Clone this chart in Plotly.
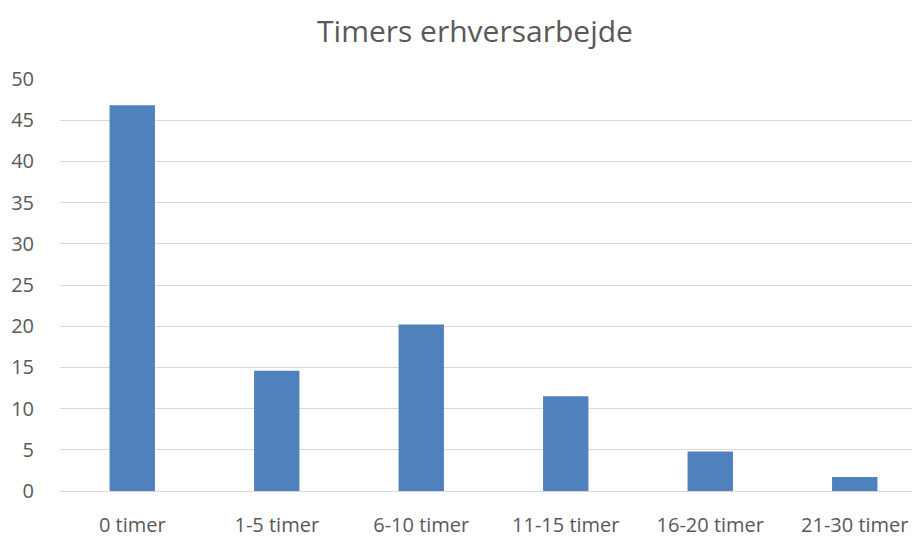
import plotly.graph_objects as go

categories = ["0 timer", "1-5 timer", "6-10 timer", "11-15 timer", "16-20 timer", "21-30 timer"]
values = [46.8, 14.6, 20.2, 11.5, 4.8, 1.7]
y_ticks = [0, 5, 10, 15, 20, 25, 30, 35, 40, 45, 50]

fig = go.Figure(go.Bar(x=categories, y=values, marker=dict(color="#4F81BD", line=dict(width=0))))

fig.update_layout(
    width=920, height=531,
    paper_bgcolor="white", plot_bgcolor="white",
    margin=dict(l=52, r=1, t=71, b=46),
    bargap=0.686,
    showlegend=False,
    font=dict(family="Open Sans, Liberation Sans, sans-serif", color="#595959", size=20),
    title=dict(text="Timers erhversarbejde", x=0.5076, xref="container", xanchor="center",
               y=1 - 23 / 531, yref="container", yanchor="middle",
               font=dict(size=30, color="#595959")),
)
fig.update_yaxes(range=[0, 50], tickvals=y_ticks, showgrid=True, gridcolor="#D9D9D9", gridwidth=1,
                 zeroline=False, showline=False, ticks="", tickfont=dict(size=20, color="#595959"),
                 ticklabelstandoff=25)
fig.update_xaxes(showline=True, linecolor="#D9D9D9", linewidth=1, ticks="",
                 tickfont=dict(size=20, color="#595959"), ticklabelstandoff=16)

fig.write_html("out.html")
